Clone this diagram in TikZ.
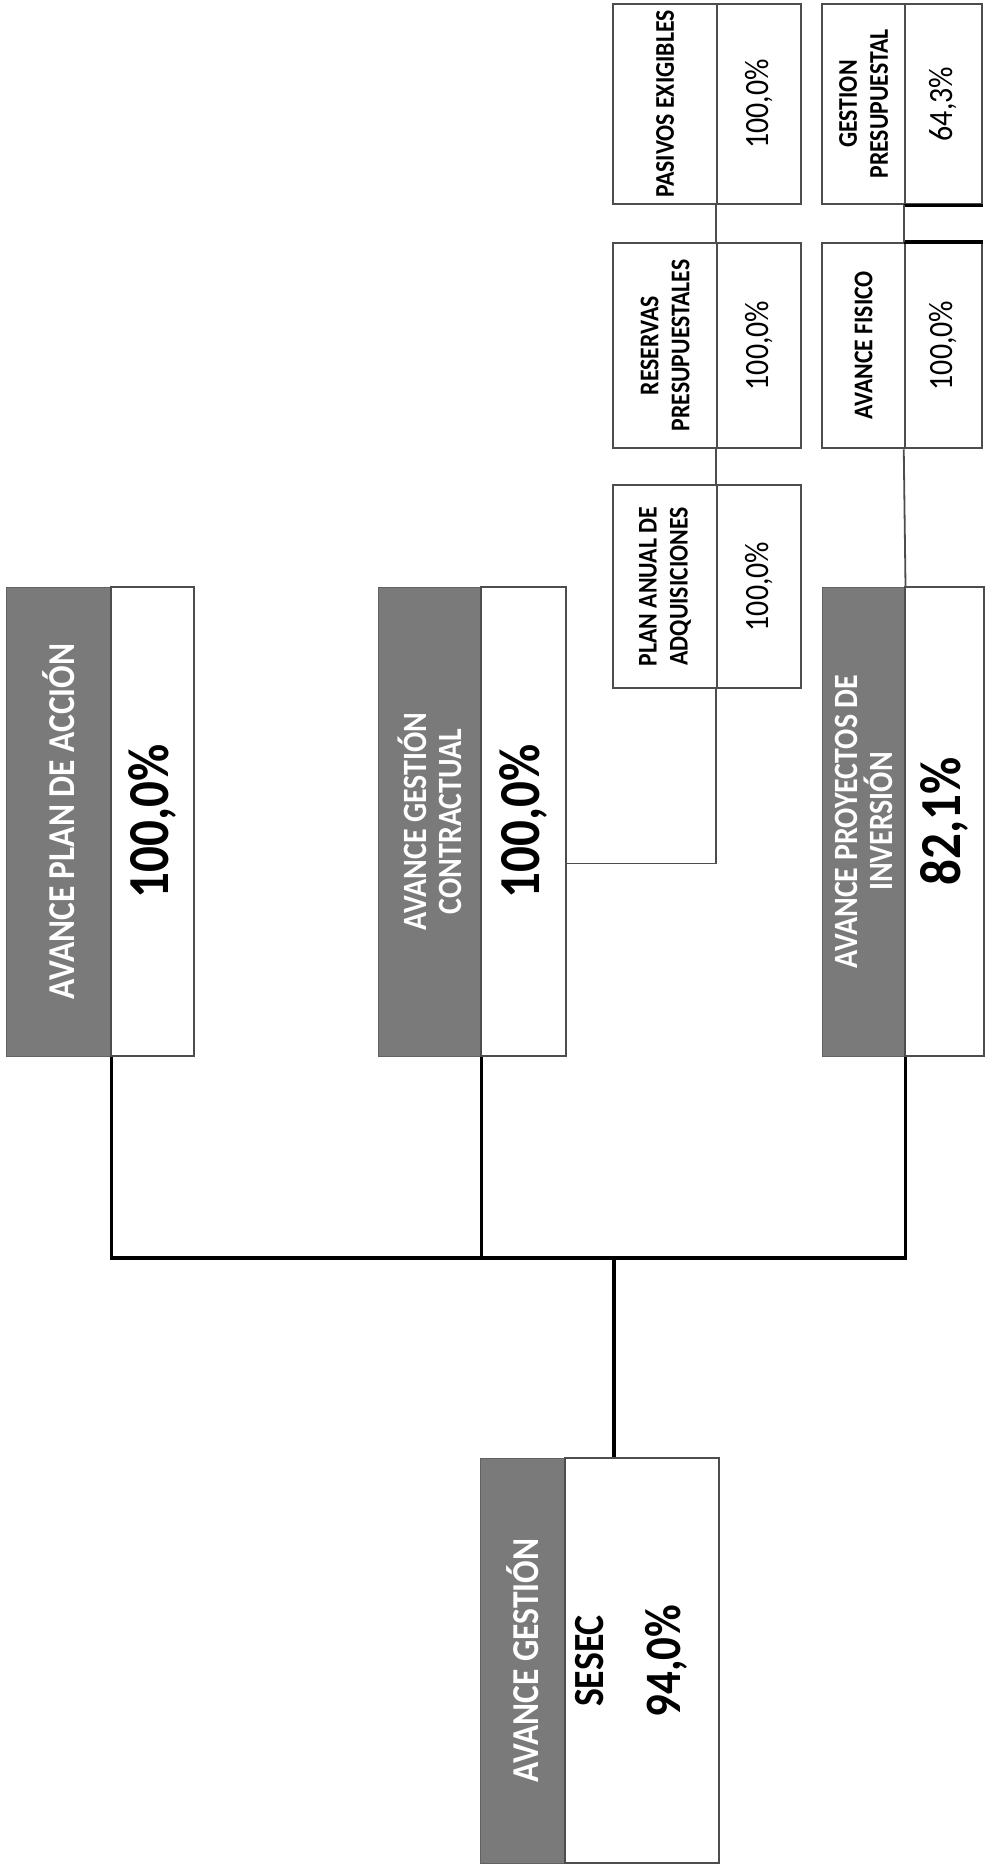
\documentclass[tikz,border=0pt]{standalone}
\definecolor{SESgray}{HTML}{7A7A7A}
\definecolor{SESedge}{HTML}{4D4D4D}
\usepackage{fontspec}
\setmainfont{Carlito}[FakeStretch=0.88]
\usetikzlibrary{fit, calc}

\begin{document}
\begin{tikzpicture}[x=1pt, y=-1pt,
   graypart/.style={fill=SESgray, draw=SESgray!80!black, line width=1pt, inner sep=0pt},
   whitepart/.style={fill=white, draw=SESedge, line width=1.5pt, inner sep=0pt},
   cellpart/.style={fill=white, draw=SESedge, line width=2.5pt, inner sep=0pt},
   headtext/.style={rotate=90, text=white, align=center, font=\bfseries\fontsize{38}{38}\selectfont},
   headtwo/.style={rotate=90, text=white, align=center, font=\bfseries\fontsize{34}{35}\selectfont},
   bigval/.style={rotate=90, font=\bfseries\fontsize{58}{60}\selectfont},
   celltext/.style={rotate=90, align=center, font=\bfseries\fontsize{27}{31}\selectfont},
   cellval/.style={rotate=90, font=\fontsize{34}{36}\selectfont},
   bus/.style={line width=3.5pt},
   link/.style={line width=1.8pt, draw=SESedge}]
            \useasboundingbox (0,0) rectangle (987,1866);
            % Avance plan de accion
            \node[graypart, fit={(6,587) (111,1056)}] (plang) {};
            \node[whitepart, fit={(111,587) (194,1056)}] (planv) {};
            \node[headtext] (plant) at (plang) {AVANCE PLAN DE ACCIÓN};
            \node[bigval] (planp) at (planv) {100,0\%};
            % Avance gestion contractual
            \node[graypart, fit={(378,587) (481,1056)}] (contg) {};
            \node[whitepart, fit={(481,587) (566,1056)}] (contv) {};
            \node[headtwo] (contt) at (contg) {AVANCE GESTIÓN\\CONTRACTUAL};
            \node[bigval] (contp) at (contv) {100,0\%};
            % Avance proyectos de inversion
            \node[graypart, fit={(822,587) (905,1056)}] (proyg) {};
            \node[whitepart, fit={(905,587) (984,1056)}] (proyv) {};
            \node[headtwo] (proyt) at (proyg) {AVANCE PROYECTOS DE\\INVERSIÓN};
            \node[bigval] (proyp) at (proyv) {82,1\%};
            % Avance gestion SESEC
            \node[graypart, fit={(480,1458) (565,1863)}] (rootg) {};
            \node[whitepart, fit={(565,1458) (719,1863)}] (rootv) {};
            \node[headtext] (roott) at (rootg) {AVANCE GESTIÓN};
            \node[rotate=90, font=\bfseries\fontsize{43}{45}\selectfont] (sesec) at (590,1661) {SESEC};
            \node[rotate=90, font=\bfseries\fontsize{51}{53}\selectfont] (rootp) at (666,1661) {94,0\%};
            % Contractual cells
            \node[cellpart, fit={(613,485) (717,688)}] (pal) {};
            \node[cellpart, fit={(717,485) (801,688)}] (pav) {};
            \node[celltext] (palt) at (pal) {PLAN ANUAL DE\\ADQUISICIONES};
            \node[cellval] (pavt) at (pav) {100,0\%};
            \node[cellpart, fit={(613,243) (717,448)}] (rsl) {};
            \node[cellpart, fit={(717,243) (801,448)}] (rsv) {};
            \node[celltext] (rslt) at (rsl) {RESERVAS\\PRESUPUESTALES};
            \node[cellval] (rsvt) at (rsv) {100,0\%};
            \node[cellpart, fit={(613,4) (717,204)}] (pel) {};
            \node[cellpart, fit={(717,4) (801,204)}] (pev) {};
            \node[celltext] (pelt) at (pel) {PASIVOS EXIGIBLES};
            \node[cellval] (pevt) at (pev) {100,0\%};
            % Inversion cells
            \node[cellpart, fit={(822,243) (905,448)}] (afl) {};
            \node[cellpart, fit={(905,243) (982,448)}] (afv) {};
            \node[celltext] (aflt) at (afl) {AVANCE FISICO};
            \node[cellval] (afvt) at (afv) {100,0\%};
            \node[cellpart, fit={(822,4) (905,204)}] (gpl) {};
            \node[cellpart, fit={(905,4) (982,204)}] (gpv) {};
            \node[celltext] (gplt) at (gpl) {GESTION\\PRESUPUESTAL};
            \node[cellval] (gpvt) at (gpv) {64,3\%};
            % heavier edges
            \draw[line width=3.5pt] (afv.north west) -- (afv.north east);
            \draw[line width=3.5pt] (gpv.south west) -- (gpv.south east);
            % Main tree
            \coordinate (bus) at (614,1258);
            \draw[bus] (plang.south east) |- (bus) -| (proyg.south east);
            \draw[bus] (contg.south east) -- (contg.south east |- bus);
            \draw[bus] (bus) -- (rootv.north -| bus);
            % Cell links
            \coordinate (cjoin) at ($(contv.east)+(0,42)$);
            \draw[link] (cjoin) -| (pav.south west);
            \draw[link] (pav.north west) -- (rsv.south west);
            \draw[link] (rsv.north west) -- (pev.south west);
            \draw[link] (proyg.north east) -- (afv.south west);
            \draw[link] (afv.north west) -- (gpv.south west);
         \end{tikzpicture}
\end{document}
